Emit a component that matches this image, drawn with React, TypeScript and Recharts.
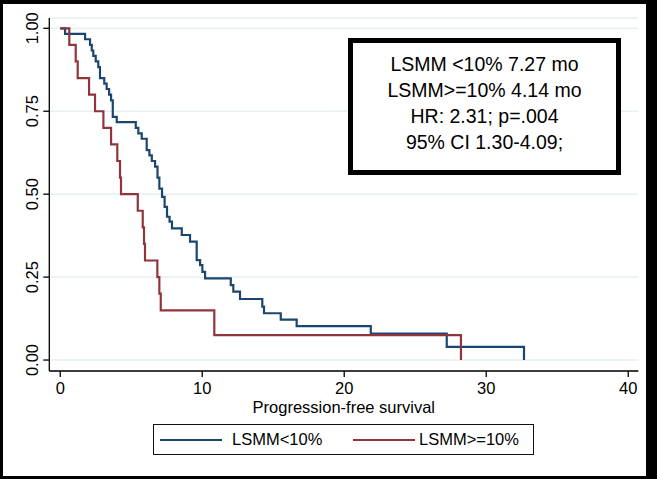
import React from 'react';
import { LineChart, Line, XAxis, YAxis, CartesianGrid } from 'recharts';

const blueName = 'LSMM<10%';
const redName = 'LSMM>=10%';

const blueTimes = [0, 0.34, 1.75, 2.10, 2.22, 2.33, 2.50, 2.68, 2.80, 3.10, 3.27, 3.44, 3.58, 3.70, 3.98, 5.32, 5.50, 5.74, 6.09, 6.28, 6.45, 6.68, 6.85, 6.98, 7.17, 7.35, 7.52, 7.70, 7.87, 8.56, 9.14, 9.61, 9.85, 10.01, 10.20, 12.01, 12.19, 12.66, 14.23, 14.35, 15.53, 16.65, 21.87, 27.22, 32.66];
const blueSurv = [1, 0.983, 0.967, 0.95, 0.933, 0.917, 0.90, 0.883, 0.850, 0.833, 0.817, 0.800, 0.783, 0.733, 0.717, 0.700, 0.683, 0.667, 0.633, 0.617, 0.600, 0.583, 0.550, 0.517, 0.492, 0.462, 0.432, 0.417, 0.397, 0.377, 0.357, 0.301, 0.286, 0.266, 0.246, 0.226, 0.206, 0.184, 0.161, 0.141, 0.122, 0.102, 0.080, 0.040, 0];

const redTimes = [0, 0.64, 1.09, 1.23, 2.03, 2.45, 3.04, 3.58, 4.02, 4.21, 4.28, 5.46, 5.81, 5.90, 5.97, 6.84, 6.98, 7.08, 10.85, 28.22];
const redSurv = [1, 0.95, 0.90, 0.85, 0.80, 0.75, 0.70, 0.65, 0.60, 0.55, 0.50, 0.45, 0.40, 0.35, 0.30, 0.25, 0.20, 0.15, 0.075, 0];

const xTicks = [0, 10, 20, 30, 40];
const yTicks = [0, 0.25, 0.5, 0.75, 1];
const yTickLabels = ['0.00', '0.25', '0.50', '0.75', '1.00'];
const xTitle = 'Progression-free survival';
const boxLines = ['LSMM <10% 7.27 mo', 'LSMM>=10% 4.14 mo', 'HR: 2.31; p=.004', '95% CI 1.30-4.09;'];

const blueData = blueTimes.map((t, i) => ({ t, s: blueSurv[i] }));
const redData = redTimes.map((t, i) => ({ t, s: redSurv[i] }));

const BLUE = '#1a476f';
const RED = '#90353b';
const FONT = '"Liberation Sans", Arial, Helvetica, sans-serif';

const YTick = (props: any) => {
  const { x, y, payload } = props;
  const bx = x - 2.8;
  const idx = yTicks.indexOf(payload.value);
  return (
    <text x={bx} y={y} transform={`rotate(-90 ${bx} ${y})`} textAnchor="middle" fontSize={16.5} fontFamily={FONT} fill="#000">
      {idx >= 0 ? yTickLabels[idx] : payload.value}
    </text>
  );
};

const XTick = (props: any) => {
  const { x, y, payload } = props;
  return (
    <text x={x} y={y + 14.5} textAnchor="middle" fontSize={16.5} fontFamily={FONT} fill="#000">
      {payload.value}
    </text>
  );
};

const XTitle = (props: any) => {
  const vb = props.viewBox || {};
  return (
    <text x={vb.x + vb.width / 2} y={vb.y + 41.5} textAnchor="middle" fontSize={16.5} fontFamily={FONT} fill="#000">
      {xTitle}
    </text>
  );
};

export default function App() {
  return (
    <div style={{ position: 'fixed', left: 0, top: 0, width: 657, height: 479, background: '#000', fontFamily: FONT }}>
      <div style={{ position: 'absolute', left: 3, top: 4, width: 643, height: 472, background: '#fff' }} />
      <div style={{ position: 'absolute', left: 0, top: 0 }}>
        <LineChart width={657} height={479} margin={{ top: 18, right: 18.7, bottom: 68, left: 9.3 }}>
          <CartesianGrid horizontal vertical={false} stroke="#e6eff1" strokeWidth={1.5} />
          <XAxis
            type="number"
            dataKey="t"
            domain={[-0.77, 40.71]}
            ticks={xTicks}
            allowDataOverflow
            height={40}
            tickSize={6}
            tickMargin={2}
            stroke="#000"
            strokeWidth={1.3}
            tick={<XTick />}
            label={<XTitle />}
          />
          <YAxis
            type="number"
            dataKey="s"
            domain={[-0.033, 1.031]}
            ticks={yTicks}
            allowDataOverflow
            width={40}
            tickSize={6}
            tickMargin={2}
            stroke="#000"
            strokeWidth={1.3}
            tick={<YTick />}
          />
          <Line data={blueData} dataKey="s" name={blueName} type="stepAfter" stroke={BLUE} strokeWidth={2.2} dot={false} isAnimationActive={false} />
          <Line data={redData} dataKey="s" name={redName} type="stepAfter" stroke={RED} strokeWidth={2.2} dot={false} isAnimationActive={false} />
        </LineChart>
      </div>
      <div style={{ position: 'absolute', left: 348, top: 38, width: 273, height: 137, boxSizing: 'border-box', border: '5px solid #000', background: '#fff' }}>
        {boxLines.map((l, i) => (
          <div key={i} style={{ position: 'absolute', left: 0, right: 0, top: 8 + i * 26, textAlign: 'center', fontSize: 19.5, lineHeight: '26px', color: '#000', whiteSpace: 'nowrap' }}>
            {l}
          </div>
        ))}
      </div>
      <div style={{ position: 'absolute', left: 153, top: 424, width: 381, height: 31, boxSizing: 'border-box', border: '1.5px solid #111', background: '#fff' }}>
        <div style={{ position: 'absolute', left: 6, top: 13.5, width: 62, height: 2, background: BLUE }} />
        <div style={{ position: 'absolute', left: 78, top: 3, fontSize: 16.5, lineHeight: '22px', color: '#000', whiteSpace: 'nowrap' }}>{blueName}</div>
        <div style={{ position: 'absolute', left: 199, top: 13.5, width: 62, height: 2, background: RED }} />
        <div style={{ position: 'absolute', left: 265, top: 3, fontSize: 16.5, lineHeight: '22px', color: '#000', whiteSpace: 'nowrap' }}>{redName}</div>
      </div>
    </div>
  );
}
